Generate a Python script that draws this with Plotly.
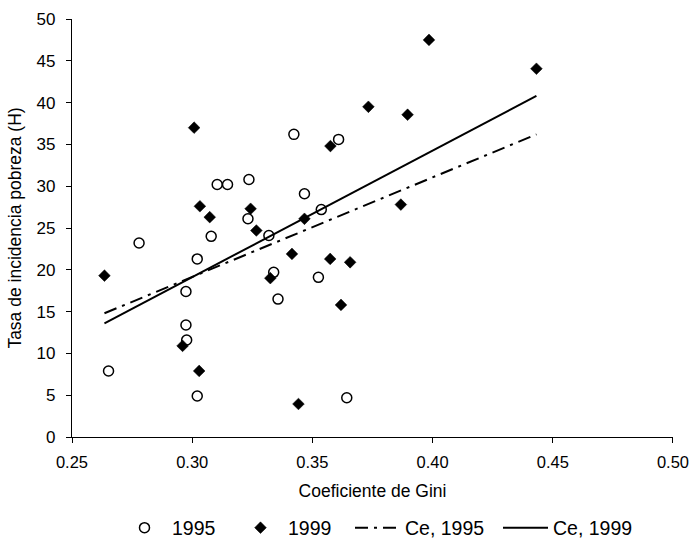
import plotly.graph_objects as go

# ---- data ----
gini_1995 = [0.2652, 0.2779, 0.2974, 0.2974, 0.2977, 0.3021, 0.3021, 0.3079, 0.3104, 0.3147,
             0.3236, 0.3232, 0.3319, 0.3339, 0.3357, 0.3423, 0.3467, 0.3537, 0.3525, 0.3609, 0.3643]
h_1995 = [7.9, 23.2, 17.4, 13.4, 11.6, 4.9, 21.3, 24.0, 30.2, 30.2,
          30.8, 26.1, 24.1, 19.7, 16.5, 36.2, 29.1, 27.2, 19.1, 35.6, 4.7]

gini_1999 = [0.2635, 0.2960, 0.3029, 0.3008, 0.3032, 0.3073, 0.3243, 0.3267, 0.3325, 0.3415,
             0.3442, 0.3467, 0.3575, 0.3574, 0.3657, 0.3619, 0.3733, 0.3896, 0.3868, 0.3985, 0.4432]
h_1999 = [19.3, 10.9, 7.9, 37.0, 27.6, 26.3, 27.3, 24.7, 19.0, 21.9,
          3.95, 26.1, 34.8, 21.3, 20.9, 15.8, 39.5, 38.55, 27.8, 47.5, 44.05]

trend_x = [0.2635, 0.4432]
ce_1995 = [14.8, 36.2]
ce_1999 = [13.6, 40.8]

x_ticks = [0.25, 0.30, 0.35, 0.40, 0.45, 0.50]
y_ticks = [0, 5, 10, 15, 20, 25, 30, 35, 40, 45, 50]

FONT = "Liberation Sans, Arial, sans-serif"

fig = go.Figure()
fig.add_trace(go.Scatter(
    x=gini_1995, y=h_1995, mode="markers", name="1995",
    marker=dict(symbol="circle", size=10, color="white", line=dict(color="black", width=1.5)),
    legendwidth=56,
))
fig.add_trace(go.Scatter(
    x=gini_1999, y=h_1999, mode="markers", name="1999",
    marker=dict(symbol="diamond", size=9, color="black", line=dict(color="black", width=0.5)),
    legendwidth=57,
))
fig.add_trace(go.Scatter(
    x=trend_x, y=ce_1995, mode="lines", name="Ce, 1995",
    line=dict(color="black", width=2, dash="13px,6px,3px,6px"),
    legendwidth=88,
))
fig.add_trace(go.Scatter(
    x=trend_x, y=ce_1999, mode="lines", name="Ce, 1999",
    line=dict(color="black", width=2),
))

fig.update_layout(
    width=690, height=542,
    margin=dict(l=72, r=17, t=19, b=105, autoexpand=False),
    paper_bgcolor="white", plot_bgcolor="white",
    font=dict(family=FONT, size=17, color="black"),
    showlegend=True,
    legend=dict(
        orientation="h", xref="container", yref="container",
        x=117 / 690, xanchor="left", y=1 - 528 / 542, yanchor="middle",
        itemwidth=45,
        font=dict(size=19.5, family=FONT, color="black"),
        bgcolor="rgba(0,0,0,0)", borderwidth=0,
    ),
)
fig.update_xaxes(
    range=[0.25, 0.50001], tickvals=x_ticks, ticktext=[f"{v:.2f}" for v in x_ticks],
    automargin=False,
    showgrid=False, zeroline=False, showline=True, linecolor="black", linewidth=1.3,
    ticks="outside", ticklen=5, tickwidth=1.3, tickcolor="black",
    tickfont=dict(size=16.5), ticklabelstandoff=5, ticklabeloverflow="allow",
    title=dict(text="Coeficiente de Gini", font=dict(size=17.5), standoff=14),
)
fig.update_yaxes(
    range=[0, 50.0001], tickvals=y_ticks,
    automargin=False,
    showgrid=False, zeroline=False, showline=True, linecolor="black", linewidth=1.3,
    ticks="outside", ticklen=5, tickwidth=1.3, tickcolor="black",
    tickfont=dict(size=17), ticklabelstandoff=7, ticklabeloverflow="allow",
    title=dict(text="Tasa de incidencia pobreza (H)", font=dict(size=17.5), standoff=10),
)

fig.write_html("out.html")
